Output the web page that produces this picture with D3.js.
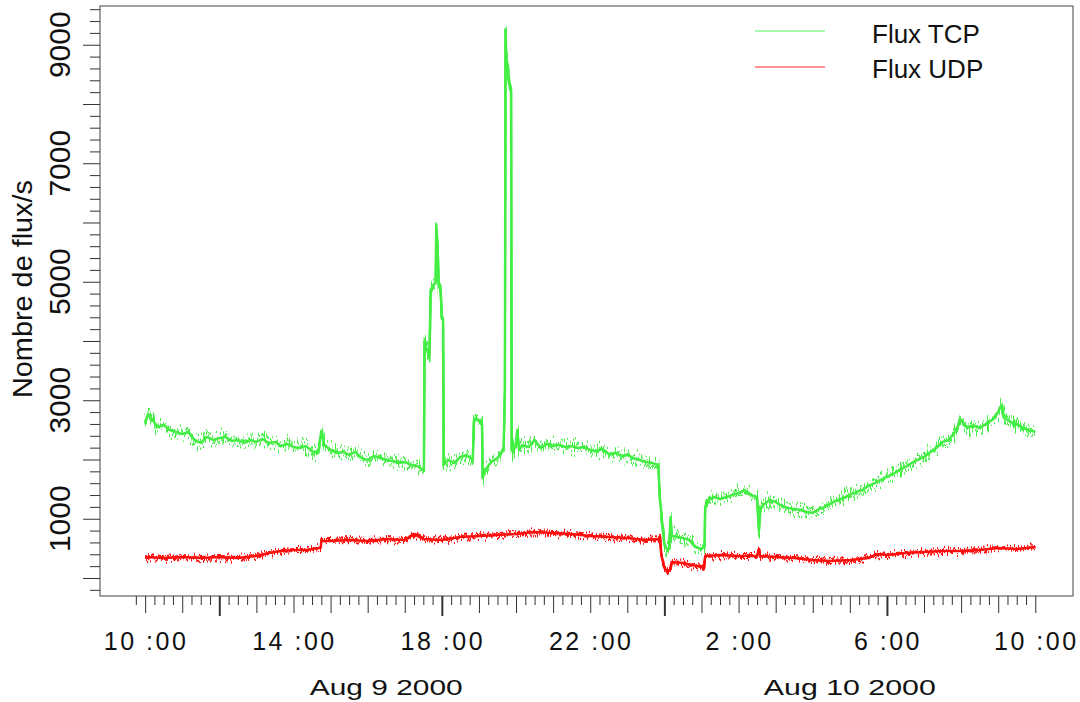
<!DOCTYPE html>
<html>
<head>
<meta charset="utf-8">
<script src="https://d3js.org/d3.v7.min.js"></script>
<style>
  body { margin: 0; background: #fff; }
  svg { font-family: "Liberation Sans", Arial, sans-serif; }
  .tick line { stroke: #333; }
</style>
</head>
<body>
<div id="chart"></div>
<script>
// values, [day hour:min, flux/s]
const tcp = [
  ["09 10:00", 2616], ["09 10:05", 2768], ["09 10:10", 2700], ["09 10:20", 2549], ["09 10:30", 2582],
  ["09 10:40", 2498], ["09 10:50", 2464], ["09 11:00", 2431], ["09 11:10", 2464], ["09 11:20", 2329],
  ["09 11:30", 2279], ["09 11:40", 2380], ["09 11:50", 2329], ["09 12:00", 2363], ["09 12:10", 2380],
  ["09 12:20", 2313], ["09 12:30", 2329], ["09 12:40", 2279], ["09 12:50", 2329], ["09 13:00", 2296],
  ["09 13:10", 2346], ["09 13:20", 2279], ["09 13:30", 2296], ["09 13:40", 2228], ["09 13:50", 2262],
  ["09 14:00", 2211], ["09 14:10", 2194], ["09 14:20", 2228], ["09 14:30", 2144], ["09 14:40", 2110],
  ["09 14:45", 2480], ["09 14:50", 2245], ["09 15:00", 2161], ["09 15:10", 2110], ["09 15:20", 2127],
  ["09 15:30", 2076], ["09 15:40", 2127], ["09 15:50", 2026], ["09 16:00", 1992], ["09 16:10", 2059],
  ["09 16:20", 2026], ["09 16:30", 1992], ["09 16:40", 1975], ["09 16:50", 1941], ["09 17:00", 1958],
  ["09 17:10", 1907], ["09 17:20", 1890], ["09 17:30", 1823], ["09 17:31", 1823], ["09 17:32", 3983],
  ["09 17:35", 3882], ["09 17:40", 3764], ["09 17:42", 4861], ["09 17:46", 4945], ["09 17:50", 4979],
  ["09 17:51", 5958], ["09 17:53", 5621], ["09 17:55", 4945], ["09 17:58", 4861], ["09 18:00", 4389],
  ["09 18:02", 4355], ["09 18:03", 1907], ["09 18:10", 1992], ["09 18:20", 1941], ["09 18:30", 2043],
  ["09 18:40", 2076], ["09 18:50", 1992], ["09 18:52", 2667], ["09 18:55", 2700], ["09 19:00", 2667],
  ["09 19:05", 2582], ["09 19:06", 1688], ["09 19:10", 1823], ["09 19:20", 1958], ["09 19:30", 2026],
  ["09 19:40", 2161], ["09 19:42", 3173], ["09 19:43", 9267], ["09 19:44", 8828], ["09 19:47", 8541],
  ["09 19:50", 8321], ["09 19:52", 8237], ["09 19:53", 2161], ["09 19:55", 2127], ["09 20:00", 2245],
  ["09 20:02", 2498], ["09 20:05", 2161], ["09 20:10", 2245], ["09 20:20", 2211], ["09 20:30", 2329],
  ["09 20:40", 2194], ["09 20:50", 2262], ["09 21:00", 2228], ["09 21:10", 2245], ["09 21:20", 2211],
  ["09 21:30", 2228], ["09 21:40", 2194], ["09 21:50", 2211], ["09 22:00", 2161], ["09 22:10", 2144],
  ["09 22:20", 2178], ["09 22:30", 2093], ["09 22:40", 2110], ["09 22:50", 2059], ["09 23:00", 2076],
  ["09 23:10", 2026], ["09 23:20", 1992], ["09 23:30", 1958], ["09 23:40", 1941], ["09 23:50", 1907],
  ["09 23:53", 1316], ["09 23:56", 979], ["10 00:00", 557], ["10 00:05", 473], ["10 00:08", 506],
  ["10 00:10", 1013], ["10 00:12", 726], ["10 00:20", 692], ["10 00:30", 675], ["10 00:40", 641],
  ["10 00:50", 523], ["10 01:00", 489], ["10 01:05", 540], ["10 01:06", 1198], ["10 01:10", 1316],
  ["10 01:20", 1367], ["10 01:30", 1333], ["10 01:40", 1367], ["10 01:50", 1401], ["10 02:00", 1434],
  ["10 02:10", 1485], ["10 02:20", 1401], ["10 02:30", 1367], ["10 02:33", 810], ["10 02:35", 1148],
  ["10 02:40", 1232], ["10 02:50", 1316], ["10 03:00", 1283], ["10 03:10", 1215], ["10 03:20", 1181],
  ["10 03:30", 1165], ["10 03:40", 1148], ["10 03:50", 1114], ["10 04:00", 1097], ["10 04:10", 1165],
  ["10 04:20", 1198], ["10 04:30", 1266], ["10 04:40", 1316], ["10 04:50", 1350], ["10 05:00", 1401],
  ["10 05:10", 1451], ["10 05:20", 1485], ["10 05:30", 1553], ["10 05:40", 1603], ["10 05:50", 1654],
  ["10 06:00", 1705], ["10 06:10", 1755], ["10 06:20", 1823], ["10 06:30", 1874], ["10 06:40", 1941],
  ["10 06:50", 1992], ["10 07:00", 2043], ["10 07:10", 2127], ["10 07:20", 2194], ["10 07:30", 2296],
  ["10 07:40", 2329], ["10 07:50", 2464], ["10 08:00", 2667], ["10 08:10", 2532], ["10 08:20", 2582],
  ["10 08:30", 2532], ["10 08:40", 2599], ["10 08:50", 2667], ["10 09:00", 2802], ["10 09:05", 2920],
  ["10 09:10", 2700], ["10 09:20", 2633], ["10 09:30", 2599], ["10 09:40", 2532], ["10 09:50", 2498],
  ["10 10:00", 2464]
]

const udp = [
  ["09 10:00", 354], ["09 10:30", 337], ["09 11:00", 354], ["09 11:30", 337], ["09 12:00", 354],
  ["09 12:30", 337], ["09 13:00", 371], ["09 13:20", 422], ["09 13:40", 456], ["09 14:00", 472],
  ["09 14:20", 472], ["09 14:40", 506], ["09 14:44", 506], ["09 14:45", 624], ["09 15:00", 624],
  ["09 15:30", 641], ["09 16:00", 624], ["09 16:30", 658], ["09 17:00", 641], ["09 17:14", 743],
  ["09 17:30", 658], ["09 18:00", 641], ["09 18:30", 692], ["09 19:00", 709], ["09 19:30", 726],
  ["09 20:00", 743], ["09 20:30", 776], ["09 21:00", 760], ["09 21:30", 743], ["09 22:00", 709],
  ["09 22:30", 692], ["09 23:00", 675], ["09 23:30", 641], ["09 23:50", 658], ["09 23:53", 692],
  ["09 23:55", 388], ["10 00:00", 169], ["10 00:05", 101], ["10 00:10", 152], ["10 00:12", 270],
  ["10 00:30", 253], ["10 01:00", 186], ["10 01:04", 169], ["10 01:06", 371], ["10 01:30", 388],
  ["10 02:00", 371], ["10 02:30", 371], ["10 02:33", 489], ["10 02:35", 371], ["10 03:00", 354],
  ["10 03:30", 337], ["10 04:00", 304], ["10 04:30", 287], ["10 05:00", 304], ["10 05:30", 337],
  ["10 05:45", 405], ["10 06:00", 388], ["10 06:30", 422], ["10 07:00", 439], ["10 07:30", 456],
  ["10 08:00", 456], ["10 08:30", 472], ["10 09:00", 506], ["10 09:30", 489], ["10 10:00", 523]
]

const seriesNames = ["Flux TCP", "Flux UDP"]
const seriesColors = ["#44ee44", "#ff1010"]
const yLabelValues = [1000, 3000, 5000, 7000, 9000]
const dateLabels = ["Aug 9 2000", "Aug 10 2000"]
const dateLabelTimes = ["09 16:30", "10 05:00"]

const parse = s => d3.timeParse("%Y-%m-%d %H:%M")("2000-08-" + s)

const W = 1080, H = 702
const svg = d3.select('#chart').append('svg')
  .attr('width', W)
  .attr('height', H)

const plot = {l: 100, r: 1073, t: 6, b: 596}

const x = d3.scaleTime()
  .domain([parse("09 08:47"), parse("10 11:01")])
  .range([plot.l, plot.r])
const y = d3.scaleLinear()
  .domain([-304, 9654])
  .range([plot.b, plot.t])

// noise filters give the lines their fuzzy look
const defs = svg.append('defs')
function fuzz(id, scale, seed) {
  const f = defs.append('filter').attr('id', id)
    .attr('x', '-5%').attr('y', '-20%').attr('width', '110%').attr('height', '140%')
  f.append('feTurbulence').attr('type', 'fractalNoise')
    .attr('baseFrequency', '0.7 0.04').attr('numOctaves', 2).attr('seed', seed).attr('result', 'noise')
  f.append('feColorMatrix').attr('in', 'noise').attr('type', 'matrix')
    .attr('values', '0 0 0 0 0.5  0 2 0 0 -0.5  0 0 1 0 0  0 0 0 0 1').attr('result', 'map')
  f.append('feDisplacementMap').attr('in', 'SourceGraphic').attr('in2', 'map')
    .attr('scale', scale).attr('xChannelSelector', 'R').attr('yChannelSelector', 'G')
}
fuzz('fuzzG1', 18, 3)
fuzz('fuzzG2', 14, 11)
fuzz('fuzzR1', 9, 5)
fuzz('fuzzR2', 7, 17)

const line = d3.line()
  .x(d => x(parse(d[0])))
  .y(d => y(d[1]))

function drawSeries(data, color, base, fuzzIds) {
  const g = svg.append('g')
  g.append('path')
    .datum(data)
    .attr('d', line)
    .attr('fill', 'none')
    .attr('stroke', color)
    .attr('stroke-width', base)
    .attr('stroke-linejoin', 'round')
  fuzzIds.forEach(id => {
    g.append('path')
      .datum(data)
      .attr('d', line)
      .attr('fill', 'none')
      .attr('stroke', color)
      .attr('stroke-width', 2)
      .attr('filter', 'url(#' + id + ')')
  })
}
drawSeries(udp, seriesColors[1], 2.5, ['fuzzR1', 'fuzzR2'])
drawSeries(tcp, seriesColors[0], 2.5, ['fuzzG1', 'fuzzG2'])

// frame
svg.append('rect')
  .attr('x', plot.l).attr('y', plot.t)
  .attr('width', plot.r - plot.l).attr('height', plot.b - plot.t)
  .attr('fill', 'none').attr('stroke', '#444')

// y axis ticks
const yMinor = d3.range(-200, 9601, 200).filter(v => v % 1000 !== 0)
const yMajor = d3.range(0, 9001, 1000)
svg.append('g').attr('transform', 'translate(' + plot.l + ',0)')
  .call(d3.axisLeft(y).tickValues(yMinor).tickSize(10).tickFormat(''))
  .call(g => g.select('.domain').remove())
svg.append('g').attr('transform', 'translate(' + plot.l + ',0)')
  .call(d3.axisLeft(y).tickValues(yMajor).tickSize(17).tickFormat(''))
  .call(g => g.select('.domain').remove())

svg.append('g').selectAll('text')
  .data(yLabelValues)
  .enter().append('text')
  .attr('transform', d => 'translate(70,' + y(d) + ') rotate(-90)')
  .attr('text-anchor', 'middle')
  .style('font-size', '30px')
  .style('fill', '#111')
  .text(d => d)

svg.append('text')
  .attr('transform', 'translate(32,289) rotate(-90)')
  .attr('text-anchor', 'middle')
  .style('font-size', '28px')
  .style('fill', '#111')
  .attr('textLength', 218)
  .attr('lengthAdjust', 'spacingAndGlyphs')
  .text('Nombre de flux/s')

// x axis ticks
const t0 = parse("09 10:00"), t1 = parse("10 10:00")
const tEnd = d3.timeMinute.offset(t1, 1)
const xMinor = d3.timeMinute.every(15).range(parse("09 09:45"), tEnd)
  .filter(d => d.getMinutes() !== 0)
const xHour = d3.timeHour.range(t0, tEnd).filter(d => d.getHours() % 6 !== 0)
const xSix = d3.timeHour.range(t0, tEnd).filter(d => d.getHours() % 6 === 0)
const xLabels = d3.timeHour.range(t0, tEnd, 4)

svg.append('g').attr('transform', 'translate(0,' + plot.b + ')')
  .call(d3.axisBottom(x).tickValues(xMinor).tickSize(9).tickFormat(''))
  .call(g => g.select('.domain').remove())
svg.append('g').attr('transform', 'translate(0,' + plot.b + ')')
  .call(d3.axisBottom(x).tickValues(xHour).tickSize(17).tickFormat(''))
  .call(g => g.select('.domain').remove())
svg.append('g').attr('transform', 'translate(0,' + plot.b + ')')
  .call(d3.axisBottom(x).tickValues(xSix).tickSize(20).tickFormat(''))
  .call(g => g.select('.domain').remove())
  .call(g => g.selectAll('line').attr('stroke-width', 2).attr('stroke', '#111'))

const fmt = d3.timeFormat("%-H :%M")
svg.append('g').selectAll('text')
  .data(xLabels)
  .enter().append('text')
  .attr('x', d => x(d) + 1)
  .attr('y', 650)
  .attr('text-anchor', 'middle')
  .style('font-size', '25px')
  .style('letter-spacing', '2.5px')
  .style('fill', '#111')
  .text(d => fmt(d))

svg.append('g').selectAll('text')
  .data(dateLabels)
  .enter().append('text')
  .attr('x', (d, i) => x(parse(dateLabelTimes[i])))
  .attr('y', 695)
  .attr('text-anchor', 'middle')
  .style('font-size', '22px')
  .style('fill', '#111')
  .attr('textLength', (d, i) => i === 0 ? 153 : 172)
  .attr('lengthAdjust', 'spacingAndGlyphs')
  .text(d => d)

// legend
const legend = svg.append('g')
legend.selectAll('line')
  .data(seriesNames)
  .enter().append('line')
  .attr('x1', 755).attr('x2', 825)
  .attr('y1', (d, i) => 31 + i * 36).attr('y2', (d, i) => 31 + i * 36)
  .attr('stroke', (d, i) => seriesColors[i])
  .attr('stroke-width', 1.5)
  .attr('opacity', 0.6)
legend.selectAll('text')
  .data(seriesNames)
  .enter().append('text')
  .attr('x', 872)
  .attr('y', (d, i) => 43 + i * 35)
  .style('font-size', '26px')
  .style('fill', '#111')
  .text(d => d)
</script>
</body>
</html>
